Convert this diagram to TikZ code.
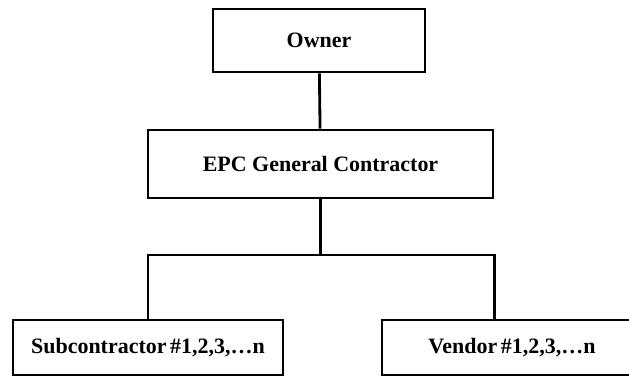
\documentclass[tikz,border=0pt]{standalone}
\usepackage{fontspec}
\setmainfont{Liberation Serif}
\usepackage{tikz}
\usetikzlibrary{positioning,calc}
\tikzset{
  box/.style={draw, line width=1.6pt, align=center, font=\bfseries\fontsize{12.5}{15}\selectfont, inner sep=4pt, fill=white},
  link/.style={line width=1.6pt},
}
\begin{document}
\begin{tikzpicture}
  \useasboundingbox (0,0) rectangle (12.58,-7.56);
  \node[box, minimum width=4.24cm, minimum height=1.26cm] (owner) at (6.38,-0.81) {Owner};
  \node[box, minimum width=6.9cm, minimum height=1.36cm] (epc) at (6.41,-3.28) {EPC General Contractor};
  \node[box, minimum width=5.4cm, minimum height=1.1cm] (sub) at (2.96,-6.95) {Subcontractor\,\#1,2,3,\dots n};
  \node[box, minimum width=5.2cm, minimum height=1.1cm] (vendor) at (10.24,-6.95) {Vendor\,\#1,2,3,\dots n};
  \coordinate (bus) at (6.41,-5.1);
  \draw[link] (owner) -- (epc);
  \draw[link] (epc) -- (bus);
  \draw[link] (sub.north) |- (bus) -| (vendor.north -| epc.east);
\end{tikzpicture}
\end{document}
